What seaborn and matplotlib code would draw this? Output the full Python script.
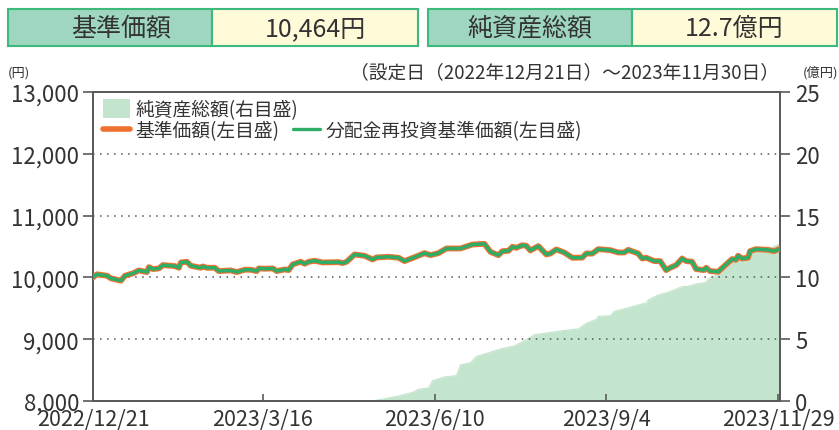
import numpy as np
import pandas as pd
import matplotlib
matplotlib.use("Agg")
import matplotlib.pyplot as plt
import seaborn as sns
from matplotlib.patches import Rectangle, Patch
from matplotlib.lines import Line2D

# ---------------- data ----------------
price_dates = [
    "2022-12-21", "2022-12-23", "2022-12-28", "2022-12-30", "2023-01-04", "2023-01-06",
    "2023-01-10", "2023-01-13", "2023-01-17", "2023-01-18", "2023-01-20", "2023-01-23",
    "2023-01-25", "2023-01-31", "2023-02-02", "2023-02-03", "2023-02-06", "2023-02-08",
    "2023-02-13", "2023-02-14", "2023-02-16", "2023-02-20", "2023-02-22", "2023-02-28",
    "2023-03-03", "2023-03-07", "2023-03-10", "2023-03-13", "2023-03-14", "2023-03-17",
    "2023-03-21", "2023-03-23", "2023-03-27", "2023-03-29", "2023-03-31", "2023-04-04",
    "2023-04-06", "2023-04-08", "2023-04-11", "2023-04-15", "2023-04-23", "2023-04-25",
    "2023-04-27", "2023-05-01", "2023-05-06", "2023-05-10", "2023-05-12", "2023-05-18",
    "2023-05-23", "2023-05-26", "2023-06-01", "2023-06-05", "2023-06-08", "2023-06-12",
    "2023-06-16", "2023-06-23", "2023-06-29", "2023-07-05", "2023-07-08", "2023-07-12",
    "2023-07-14", "2023-07-17", "2023-07-19", "2023-07-21", "2023-07-24", "2023-07-26",
    "2023-07-28", "2023-08-01", "2023-08-05", "2023-08-07", "2023-08-10", "2023-08-14",
    "2023-08-18", "2023-08-23", "2023-08-25", "2023-08-28", "2023-08-31", "2023-09-06",
    "2023-09-10", "2023-09-13", "2023-09-15", "2023-09-20", "2023-09-22", "2023-09-24",
    "2023-09-28", "2023-10-01", "2023-10-04", "2023-10-06", "2023-10-09", "2023-10-12",
    "2023-10-14", "2023-10-17", "2023-10-19", "2023-10-23", "2023-10-24", "2023-10-26",
    "2023-10-30", "2023-11-03", "2023-11-06", "2023-11-08", "2023-11-09", "2023-11-11",
    "2023-11-14", "2023-11-15", "2023-11-18", "2023-11-24", "2023-11-27", "2023-11-30",
]
nav_values = [
    10000, 10050, 10027, 9984, 9947, 10027,
    10065, 10113, 10086, 10166, 10134, 10145,
    10199, 10183, 10156, 10242, 10253, 10188,
    10156, 10177, 10156, 10156, 10102, 10113,
    10086, 10124, 10124, 10102, 10145, 10140,
    10145, 10102, 10129, 10118, 10210, 10253,
    10221, 10253, 10269, 10242, 10247, 10231,
    10253, 10371, 10350, 10290, 10323, 10334,
    10318, 10264, 10339, 10393, 10360, 10393,
    10468, 10468, 10532, 10543, 10414, 10360,
    10425, 10430, 10495, 10479, 10521, 10511,
    10436, 10506, 10371, 10387, 10452, 10403,
    10318, 10320, 10387, 10385, 10457, 10441,
    10403, 10403, 10446, 10387, 10306, 10318,
    10264, 10264, 10118, 10156, 10199, 10306,
    10264, 10253, 10134, 10118, 10156, 10102,
    10091, 10210, 10296, 10285, 10350, 10306,
    10318, 10425, 10457, 10446, 10425, 10464,
]
# reinvested NAV equals NAV (no distributions)
reinvest_values = list(nav_values)

asset_dates = [
    "2022-12-21", "2023-05-10", "2023-05-17", "2023-05-23", "2023-05-30", "2023-06-02",
    "2023-06-07", "2023-06-09", "2023-06-15", "2023-06-21", "2023-06-23", "2023-06-28",
    "2023-07-01", "2023-07-08", "2023-07-14", "2023-07-20", "2023-07-25", "2023-07-30",
    "2023-08-03", "2023-08-13", "2023-08-21", "2023-08-25", "2023-08-30", "2023-08-31",
    "2023-09-06", "2023-09-08", "2023-09-14", "2023-09-20", "2023-09-24", "2023-09-25",
    "2023-09-30", "2023-10-05", "2023-10-12", "2023-10-15", "2023-10-19", "2023-10-24",
    "2023-10-25", "2023-10-29", "2023-11-01", "2023-11-06", "2023-11-11", "2023-11-15",
    "2023-11-24", "2023-11-27", "2023-11-30",
]
asset_values = [
    0, 0, 0.22, 0.40, 0.70, 0.95,
    1.05, 1.64, 1.95, 2.05, 2.92, 3.10,
    3.61, 3.95, 4.25, 4.45, 4.88, 5.37,
    5.45, 5.69, 5.83, 6.28, 6.60, 6.85,
    6.90, 7.25, 7.50, 7.77, 7.93, 8.17,
    8.58, 8.79, 9.25, 9.28, 9.47, 9.60,
    9.87, 10.14, 10.81, 11.35, 11.62, 12.03,
    12.24, 12.51, 12.70,
]

xtick_dates = ["2022-12-21", "2023-03-16", "2023-06-10", "2023-09-04", "2023-11-29"]
xtick_labels = ["2022/12/21", "2023/3/16", "2023/6/10", "2023/9/4", "2023/11/29"]
left_ticks = [8000, 9000, 10000, 11000, 12000, 13000]
left_labels = ["8,000", "9,000", "10,000", "11,000", "12,000", "13,000"]
right_ticks = [0, 5, 10, 15, 20, 25]

header_items = [("基準価額", "10,464円"), ("純資産総額", "12.7億円")]
period_text = "（設定日（2022年12月21日）～2023年11月30日）"
legend_labels = ["純資産総額(右目盛)", "基準価額(左目盛)", "分配金再投資基準価額(左目盛)"]

# ---------------- style ----------------
sns.set_theme(style="white")
plt.rcParams['font.family'] = ['Noto Sans CJK JP', 'DejaVu Sans']

ORANGE = "#EE7130"
GREEN = "#2EAD67"
AREA = "#C3E4CD"
SPINE = "#5a5a5a"
TXT = "#333333"

W, H = 839, 431
fig = plt.figure(figsize=(W / 100, H / 100), dpi=100)
fig.patch.set_facecolor("white")

L, R, T, B = 93, 780, 93, 402
ax = fig.add_axes([L / W, 1 - B / H, (R - L) / W, (B - T) / H])
ax2 = ax.twinx()

price_df = pd.DataFrame({"date": pd.to_datetime(price_dates),
                         "nav": nav_values, "reinvest": reinvest_values})
asset_df = pd.DataFrame({"date": pd.to_datetime(asset_dates), "assets": asset_values})

# area on right axis
ax2.fill_between(asset_df["date"], 0, asset_df["assets"], color=AREA, lw=0, zorder=1)
sns.lineplot(data=asset_df, x="date", y="assets", ax=ax2, color=AREA, lw=0.8, zorder=1)

# lines on left axis
sns.lineplot(data=price_df, x="date", y="nav", ax=ax, color=ORANGE, lw=4.2, zorder=3)
sns.lineplot(data=price_df, x="date", y="reinvest", ax=ax, color=GREEN, lw=2.5, zorder=4)

ax.set_zorder(ax2.get_zorder() + 1)
ax.patch.set_visible(False)

xmin, xmax = pd.Timestamp("2022-12-21"), pd.Timestamp("2023-11-30")
ax.set_xlim(xmin, xmax)
ax.set_ylim(8000, 13000)
ax2.set_ylim(0, 25)

for y in left_ticks[1:-1]:
    ax.axhline(y, color="#555555", lw=1.1, linestyle=(0, (1, 3.6)), zorder=2)

ax.set_yticks(left_ticks)
ax.set_yticklabels(left_labels)
ax.set_xticks(pd.to_datetime(xtick_dates))
ax.set_xticklabels(xtick_labels)
ax2.set_yticks(right_ticks)
ax2.set_yticklabels([str(v) for v in right_ticks])

ax.set_xlabel("")
ax.set_ylabel("")
ax2.set_ylabel("")
ax.grid(False)
ax2.grid(False)

ax.tick_params(axis="y", left=True, direction="out", length=7, width=1.2, color=SPINE,
               labelsize=16, labelcolor=TXT, pad=3)
ax.tick_params(axis="x", bottom=True, direction="in", length=5, width=1.2, color=SPINE,
               labelsize=15.5, labelcolor=TXT, pad=5)
ax2.tick_params(axis="y", right=True, direction="out", length=7, width=1.2, color=SPINE,
                labelsize=16, labelcolor=TXT, pad=4)

for a in (ax, ax2):
    for s in a.spines.values():
        s.set_color(SPINE)
        s.set_linewidth(1.3)
        s.set_visible(True)

# legends
LEG_FS = 13.5
h1 = [Patch(facecolor=AREA, edgecolor="none")]
leg1 = ax.legend(h1, legend_labels[:1], loc="upper left",
                 bbox_to_anchor=((103 - L) / (R - L), 1 - (100 - T) / (B - T)),
                 frameon=False, fontsize=LEG_FS, handlelength=1.45, handleheight=1.15,
                 handletextpad=0.3, borderpad=0, borderaxespad=0, labelcolor=TXT)
ax.add_artist(leg1)
h2 = [Line2D([], [], color=ORANGE, lw=4.0), Line2D([], [], color=GREEN, lw=2.4)]
ax.legend(h2, legend_labels[1:], loc="upper left", ncol=2,
          bbox_to_anchor=((103 - L) / (R - L), 1 - (121 - T) / (B - T)),
          frameon=False, fontsize=LEG_FS, handlelength=1.45, handletextpad=0.3,
          columnspacing=0.7, borderpad=0, borderaxespad=0, labelcolor=TXT)

# overlay for header & annotations (pixel coords)
ov = fig.add_axes([0, 0, 1, 1], zorder=10)
ov.set_xlim(0, W)
ov.set_ylim(H, 0)
ov.axis("off")
ov.patch.set_visible(False)

boxes = [(8, 212, 418, 121), (428, 632, 837, 530)]
for (x0, xm, x1, lx), (lab, val) in zip(boxes, header_items):
    ov.add_patch(Rectangle((x0, 10), xm - x0, 37, facecolor="#9ED6BF",
                           edgecolor="#3DB97E", lw=1.5))
    ov.add_patch(Rectangle((xm, 10), x1 - xm, 37, facecolor="#FFFBD8",
                           edgecolor="#3DB97E", lw=1.5))
    ov.text(lx, 29, lab, ha="center", va="center", fontsize=18, color=TXT)
    ov.text((xm + x1) / 2, 29, val, ha="center", va="center", fontsize=18, color=TXT)

ov.text(8, 73, "(円)", ha="left", va="center", fontsize=9.5, color=TXT)
ov.text(779, 73, period_text, ha="right", va="center", fontsize=13.5, color=TXT)
ov.text(838, 73, "(億円)", ha="right", va="center", fontsize=9.5, color=TXT)

fig.savefig("out.png", dpi=100, facecolor="white")
